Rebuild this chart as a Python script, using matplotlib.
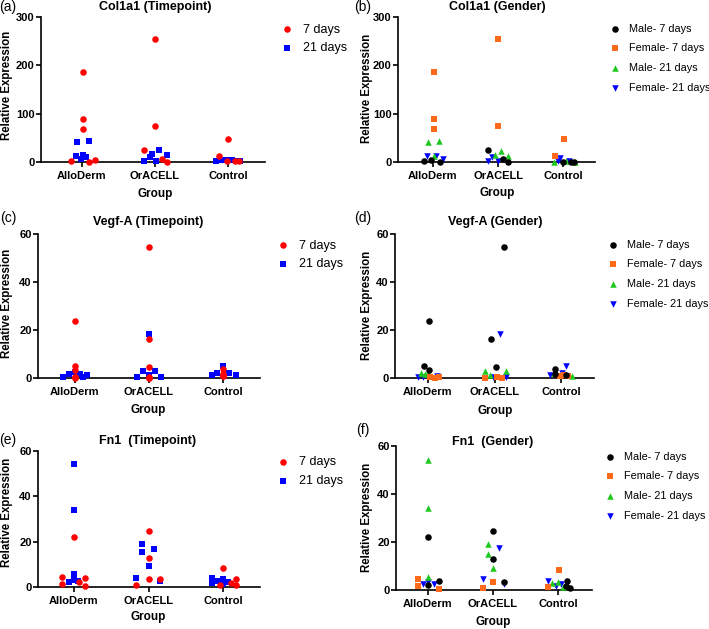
import matplotlib
matplotlib.use("Agg")
import matplotlib.pyplot as plt

plt.rcParams['font.family'] = ['Liberation Sans', 'DejaVu Sans']

# ---------------- data ----------------
groups = ["AlloDerm", "OrACELL", "Control"]
yticks_col = [0, 100, 200, 300]
yticks_small = [0, 20, 40, 60]

# (a) Col1a1 timepoint
col1a1_7d = [[187, 88, 68, 2, 0.5, 5], [254, 74, 24, 6, 1], [47, 12, 2, 2, 2]]
col1a1_7d_jit = [[0.01, 0.01, 0.01, -0.15, 0.10, 0.18], [0, 0, -0.15, 0.09, 0.17], [0, -0.13, -0.02, 0.09, 0.15]]
col1a1_21d = [[41, 44, 12, 14, 10, 6], [2, 10, 16, 3, 24, 15], [3, 5, 4, 5, 3, 2]]
col1a1_21d_jit = [[-0.07, 0.09, -0.08, 0.01, 0.05, -0.01], [-0.15, -0.07, -0.04, 0.01, 0.06, 0.17], [-0.16, -0.08, 0, 0.05, 0.11, 0.16]]

# (b) Col1a1 gender
col1a1_m7 = [[2, 5, 0.5], [24, 6, 1], [1, 1, 1]]
col1a1_m7_jit = [[-0.14, -0.03, 0.11], [-0.16, 0.08, 0.16], [0, 0.13, 0.17]]
col1a1_f7 = [[187, 88, 68], [254, 74], [12, 47]]
col1a1_f7_jit = [[0.01, 0.01, 0.01], [0, 0], [-0.12, 0.01]]
col1a1_m21 = [[41, 44, 12], [15, 22, 13], [0.5, 3, 0.5]]
col1a1_m21_jit = [[-0.07, 0.09, 0.02], [-0.05, 0.05, 0.16], [-0.14, 0.05, 0.19]]
col1a1_f21 = [[13, 12, 6], [3, 10, 3], [3, 8, 2]]
col1a1_f21_jit = [[-0.09, 0.04, 0.16], [-0.16, -0.09, 0], [-0.08, -0.04, 0.09]]

# (c) Vegf-A timepoint
vegf_7d = [[23.6, 5.1, 3.2, 0.2, 0.3, 0.4], [54.4, 16.2, 4.4, 0.1, 0.6, 0.2], [3.6, 1.8, 1.1, 1.0, 1.3, 0.8]]
vegf_7d_jit = [[0, 0, 0, 0, 0, 0], [0, 0, 0, 0, 0, 0], [0, 0, 0, 0, 0, 0]]
vegf_21d = [[0.6, 1.8, 2.5, 1.8, 0.4, 1.2], [18.3, 3.0, 2.8, 1.4, 0.3, 0.5], [5.1, 2.1, 2.1, 1.1, 1.1]]
vegf_21d_jit = [[-0.16, -0.07, 0, 0.07, 0.11, 0.17], [0, -0.08, 0.08, 0, -0.16, 0.16], [0, -0.08, 0.08, -0.15, 0.17]]

# (d) Vegf-A gender
vegf_m7 = [[5.1, 23.6, 3.2], [16.2, 54.4, 4.6], [3.6, 1.8, 1.1]]
vegf_m7_jit = [[-0.06, 0.02, 0.02], [-0.06, 0.15, 0.02], [-0.09, -0.09, 0.07]]
vegf_f7 = [[0.3, 0.2, 0.4], [0.0, 0.6, 0.2], [1.0, 1.3, 0.8]]
vegf_f7_jit = [[0.03, 0.10, 0.17], [-0.14, 0.04, 0.11], [-0.02, 0.05, 0.10]]
vegf_m21 = [[2.0, 1.8, 2.5], [3.0, 1.4, 2.8], [2.2, 0.7]]
vegf_m21_jit = [[-0.11, -0.04, 0.0], [-0.15, -0.07, 0.18], [-0.10, 0.17]]
vegf_f21 = [[0.5, 0.5, 1.0], [18.3, 0.3, 0.5], [1.2, 5.1, 2.0]]
vegf_f21_jit = [[-0.15, -0.07, 0.13], [0.09, -0.03, 0.18], [-0.16, 0.07, 0.02]]

# (e) Fn1 timepoint
fn1_7d = [[22.1, 4.4, 1.5, 2.2, 4.1, 0.3], [24.6, 12.8, 3.4, 1.0, 3.4], [8.4, 1.0, 1.8, 3.7, 1.0]]
fn1_7d_jit = [[0, -0.16, -0.16, 0.07, 0.15, 0.15], [0, 0, 0, -0.17, 0.16], [0, -0.04, 0.11, 0.17, 0.17]]
fn1_21d = [[54.1, 34.1, 5.6, 3.0, 2.2, 2.6], [18.8, 15.3, 16.9, 9.1, 4.1, 2.5], [3.9, 1.7, 2.8, 3.5, 1.4, 2.4]]
fn1_21d_jit = [[0, 0, 0, 0, -0.07, 0.05], [-0.09, -0.09, 0.07, 0, -0.17, 0.16], [-0.15, -0.15, -0.08, 0, 0, 0.07]]

# (f) Fn1 gender
fn1_m7 = [[22.1, 2.1, 3.9], [24.5, 12.8, 3.5], [3.9, 1.8, 1.0]]
fn1_m7_jit = [[0, 0, 0.17], [0, 0, 0.17], [0.14, 0.12, 0.18]]
fn1_f7 = [[4.4, 1.7, 0.3], [1.0, 3.5], [8.3, 1.1]]
fn1_f7_jit = [[-0.15, -0.15, 0.17], [-0.15, 0], [0.02, -0.15]]
fn1_m21 = [[54.0, 34.0, 5.3], [19.0, 15.2, 9.0], [2.8, 3.5, 1.4]]
fn1_m21_jit = [[0, 0, 0], [-0.08, -0.08, 0], [-0.09, 0, 0.08]]
fn1_f21 = [[2.5, 3.5, 2.5], [4.6, 17.3, 2.4], [3.9, 1.7, 2.4]]
fn1_f21_jit = [[-0.08, 0, 0.09], [-0.15, 0.09, 0.17], [-0.15, -0.03, 0.05]]

# ---------------- styles ----------------
RED, BLUE, BLACK, ORANGE, GREEN = "#ff0000", "#0000ff", "#000000", "#ff6a1a", "#1ec81e"
time_styles = [("7 days", "o", RED), ("21 days", "s", BLUE)]
gender_styles = [("Male- 7 days", "o", BLACK), ("Female- 7 days", "s", ORANGE),
                 ("Male- 21 days", "^", GREEN), ("Female- 21 days", "v", BLUE)]
MS = 22

W, H = 709, 629
fig = plt.figure(figsize=(W / 100, H / 100), dpi=100)


def make_axes(l, t, r, b, cats):
    ax = fig.add_axes([l / W, 1 - b / H, (r - l) / W, (b - t) / H])
    s = (cats[2] - cats[0]) / 2
    ax.set_xlim((l - cats[0]) / s, 2 + (r - cats[2]) / s)
    return ax


def style_axes(ax, yticks):
    ax.set_ylim(yticks[0], yticks[-1])
    ax.set_yticks(yticks)
    ax.set_xticks(range(len(groups)))
    ax.set_xticklabels(groups)
    for sp in ("top", "right"):
        ax.spines[sp].set_visible(False)
    for sp in ("left", "bottom"):
        ax.spines[sp].set_linewidth(1.2)
    ax.tick_params(axis="both", width=1.2, length=3.5, labelsize=8)
    ax.tick_params(axis="y", pad=1)
    ax.tick_params(axis="x", pad=3)
    for lab in ax.get_xticklabels() + ax.get_yticklabels():
        lab.set_fontweight("bold")


def draw_series(ax, series, styles):
    handles = []
    n = len(series)
    for k, ((vals, jit), (label, mk, col)) in enumerate(zip(series, styles)):
        xs, ys = [], []
        for g, (gv, gj) in enumerate(zip(vals, jit)):
            for v, j in zip(gv, gj):
                xs.append(g + j)
                ys.append(v)
        h = ax.scatter(xs, ys, s=MS, marker=mk, color=col, linewidths=0,
                       clip_on=False, zorder=10 + (n - k), label=label)
        handles.append(h)
    return handles


def add_legend(ax, handles, mx, my, fs, ls):
    fs_px = fs / 72 * 100
    leg = ax.legend(handles=handles, loc="upper left",
                    bbox_to_anchor=((mx - 0.4 * fs_px) / W, 1 - (my - 4.5) / H),
                    bbox_transform=fig.transFigure, frameon=False, borderpad=0,
                    borderaxespad=0, handlelength=0.8, handletextpad=0.9,
                    labelspacing=ls, fontsize=fs, scatterpoints=1)
    return leg


def ftext(x, y, s, **kw):
    fig.text(x / W, 1 - y / H, s, ha="center", va="center", **kw)


panels = [
    ("(a)", (41, 17, 265, 162), (82, 155, 228),
     [(col1a1_7d, col1a1_7d_jit), (col1a1_21d, col1a1_21d_jit)], time_styles, yticks_col,
     "Col1a1 (Timepoint)", (155, 7), (8, 7), (7, 85), (155, 194), (287, 28)),
    ("(b)", (398, 17, 595, 162), (433, 498, 563),
     [(col1a1_m7, col1a1_m7_jit), (col1a1_f7, col1a1_f7_jit), (col1a1_m21, col1a1_m21_jit), (col1a1_f21, col1a1_f21_jit)],
     gender_styles, yticks_col,
     "Col1a1 (Gender)", (497, 7), (363, 7), (367, 88), (497, 193), (615, 28)),
    ("(c)", (38, 234, 260, 378), (74.5, 148.5, 223),
     [(vegf_7d, vegf_7d_jit), (vegf_21d, vegf_21d_jit)], time_styles, yticks_small,
     "Vegf-A (Timepoint)", (148, 222), (8, 218), (7, 303), (148, 410), (283, 244)),
    ("(d)", (395, 234, 594, 378), (428, 494, 561),
     [(vegf_m7, vegf_m7_jit), (vegf_f7, vegf_f7_jit), (vegf_m21, vegf_m21_jit), (vegf_f21, vegf_f21_jit)],
     gender_styles, yticks_small,
     "Vegf-A (Gender)", (495, 222), (363, 218), (367, 305), (495, 411), (613, 244)),
    ("(e)", (38, 451, 260, 587), (74, 148, 223),
     [(fn1_7d, fn1_7d_jit), (fn1_21d, fn1_21d_jit)], time_styles, yticks_small,
     "Fn1  (Timepoint)", (148, 441), (8, 440), (7, 512), (148, 617), (283, 461)),
    ("(f)", (396, 446, 592, 590), (428, 493, 558),
     [(fn1_m7, fn1_m7_jit), (fn1_f7, fn1_f7_jit), (fn1_m21, fn1_m21_jit), (fn1_f21, fn1_f21_jit)],
     gender_styles, yticks_small,
     "Fn1  (Gender)", (493, 442), (363, 430), (367, 517), (493, 622), (610, 456)),
]

for (letter, box, cats, series, styles, yt, title, tpos, lpos, ylpos, xlpos, legpos) in panels:
    ax = make_axes(*box, cats)
    style_axes(ax, yt)
    hs = draw_series(ax, series, styles)
    if len(styles) == 2:
        add_legend(ax, hs, *legpos, fs=9, ls=0.54)
    else:
        add_legend(ax, hs, *legpos, fs=7.8, ls=0.9)
    ftext(*tpos, title, fontsize=9, fontweight="bold")
    ftext(*lpos, letter, fontsize=10)
    ftext(*ylpos, "Relative Expression", fontsize=8.3, fontweight="bold", rotation=90)
    ftext(*xlpos, "Group", fontsize=8.5, fontweight="bold")

fig.savefig("out.png", dpi=100)
